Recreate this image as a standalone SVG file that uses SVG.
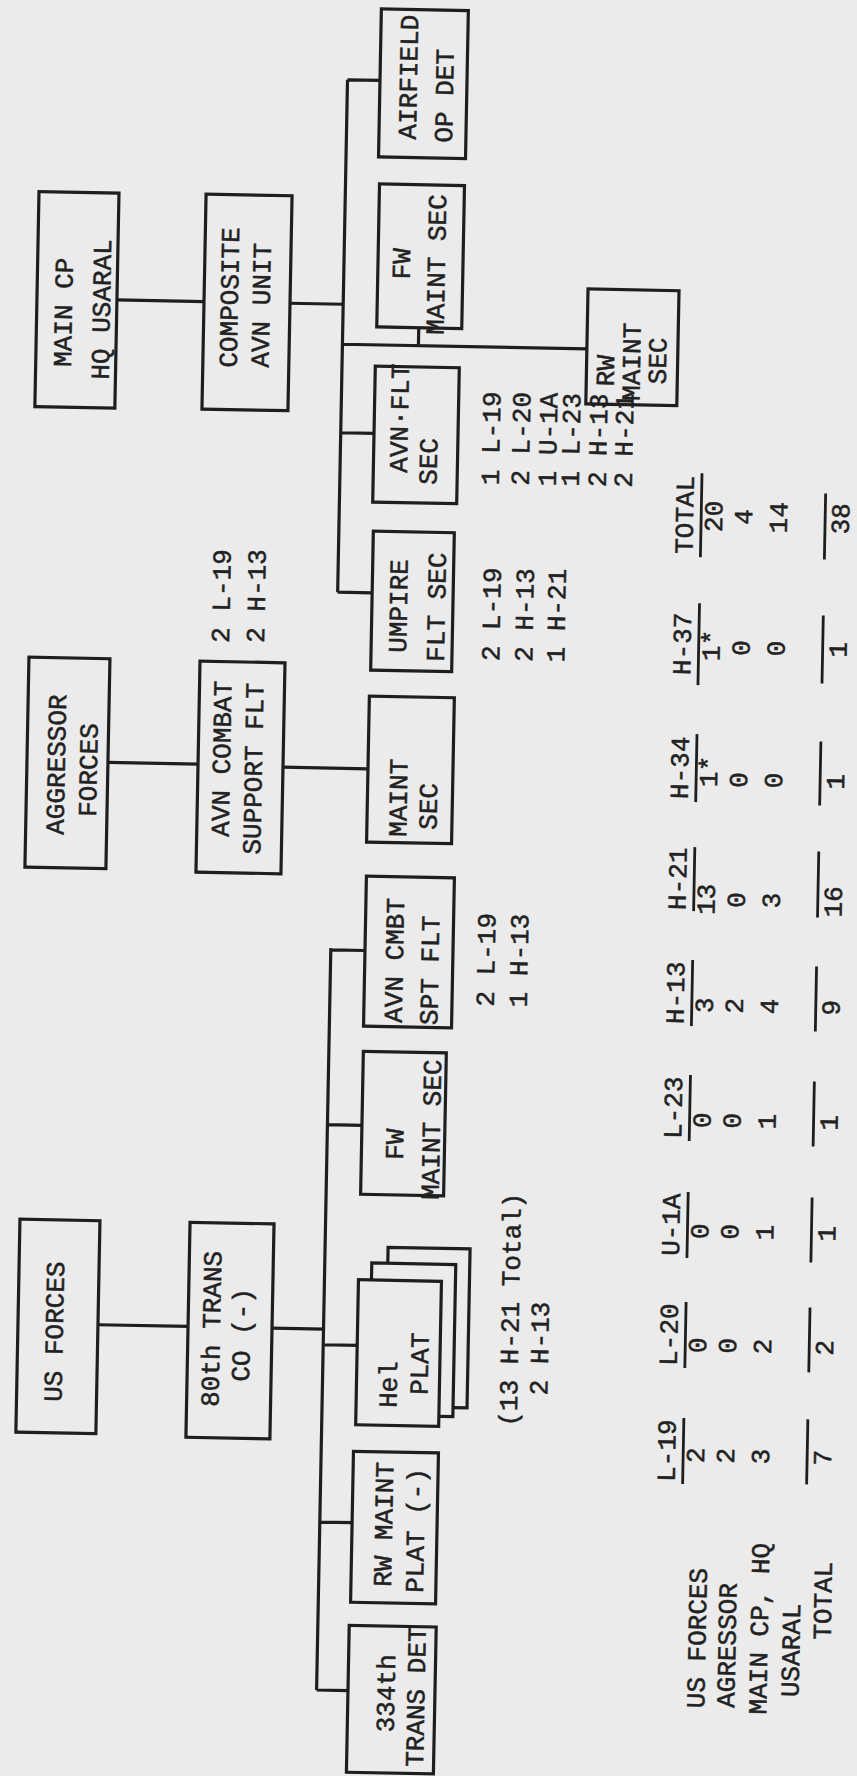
<svg xmlns="http://www.w3.org/2000/svg" width="857" height="1776" viewBox="0 0 857 1776">
<style>
.bg{fill:#ebebeb}
.box{fill:none;stroke:#1e1e1e;stroke-width:3.2;stroke-linejoin:miter}
.con{fill:none;stroke:#1e1e1e;stroke-width:3.2}
.rule{fill:none;stroke:#1e1e1e;stroke-width:2.8}
.t{font-family:"Liberation Mono","DejaVu Sans Mono",monospace;font-size:26px;fill:#222;stroke:#222;stroke-width:0.5}
.m{text-anchor:middle}
</style>
<rect class="bg" x="0" y="0" width="857" height="1776"/>
<g transform="rotate(1.1 428 888)">
<g id="connectors">
<path class="con" d="M105.7,306H192.8M278.8,306H332M332,81.5V594M332,81.5H364.5M332,346H576.5M408,328V346M332,434.5H365.3M332,594H366.5"/>
<path class="con" d="M105.6,768.5H195.7M280.7,770H365.7"/>
<path class="con" d="M106.4,1331H196.5M280.5,1331H332M332,950V1692M332,951.7H366.2M332,1126.6H366.5M332,1346.7H366M332,1524H364.3M332,1692H363.4"/>
</g>
<g id="main-cp">
<rect class="box" x="25.7" y="199.2" width="80" height="215"/>
<text class="t" transform="translate(61,374) rotate(-90)">MAIN CP</text>
<text class="t" transform="translate(99,386) rotate(-90)">HQ USARAL</text>
</g>
<g id="composite">
<rect class="box" x="192.8" y="198.5" width="86" height="215"/>
<text class="t" transform="translate(226.7,371.6) rotate(-90)">COMPOSITE</text>
<text class="t" transform="translate(258.6,371) rotate(-90)">AVN UNIT</text>
</g>
<g id="airfield">
<rect class="box" x="364.5" y="10" width="87" height="148"/>
<text class="t" transform="translate(401.5,140) rotate(-90)">AIRFIELD</text>
<text class="t" transform="translate(437.8,142.5) rotate(-90)">OP DET</text>
</g>
<g id="fw-maint-r">
<rect class="box" x="366" y="185" width="85" height="143"/>
<text class="t" transform="translate(398,280) rotate(-90)">FW</text>
<text class="t" transform="translate(433,334.7) rotate(-90)">MAINT SEC</text>
</g>
<g id="avn-flt">
<rect class="box" x="365.3" y="367.2" width="84" height="136"/>
<text class="t" transform="translate(399,473.4) rotate(-90)">AVN·FLT</text>
<text class="t" transform="translate(428.8,484.8) rotate(-90)">SEC</text>
<text class="t" transform="translate(491,484) rotate(-90)">1 L-19</text>
<text class="t" transform="translate(521,484) rotate(-90)">2 L-20</text>
<text class="t" transform="translate(548,484) rotate(-90)">1 U-1A</text>
<text class="t" transform="translate(571,484) rotate(-90)">1 L-23</text>
<text class="t" transform="translate(598,484) rotate(-90)">2 H-13</text>
<text class="t" transform="translate(624,484) rotate(-90)">2 H-21</text>
</g>
<g id="umpire">
<rect class="box" x="366.5" y="532.3" width="81" height="139"/>
<text class="t" transform="translate(401.6,653.4) rotate(-90)">UMPIRE</text>
<text class="t" transform="translate(439.6,661.7) rotate(-90)">FLT SEC</text>
<text class="t" transform="translate(494.8,660) rotate(-90)">2 L-19</text>
<text class="t" transform="translate(527.8,660) rotate(-90)">2 H-13</text>
<text class="t" transform="translate(559.8,660) rotate(-90)">1 H-21</text>
</g>
<g id="rw-maint-sec">
<rect class="box" x="576.5" y="286" width="91" height="115"/>
<text class="t" transform="translate(604,383) rotate(-90)">RW</text>
<text class="t" transform="translate(630,397) rotate(-90)">MAINT</text>
<text class="t" transform="translate(656,380) rotate(-90)">SEC</text>
</g>
<g id="aggressor">
<rect class="box" x="24.6" y="664.9" width="81" height="210"/>
<text class="t" transform="translate(62.6,842) rotate(-90)">AGGRESSOR</text>
<text class="t" transform="translate(94.7,823.4) rotate(-90)">FORCES</text>
</g>
<g id="avn-combat">
<rect class="box" x="195.7" y="665.6" width="85" height="211"/>
<text class="t" transform="translate(227.7,840.8) rotate(-90)">AVN COMBAT</text>
<text class="t" transform="translate(259.7,858) rotate(-90)">SUPPORT FLT</text>
<text class="t" transform="translate(224.4,646.8) rotate(-90)">2 L-19</text>
<text class="t" transform="translate(259.4,646.1) rotate(-90)">2 H-13</text>
</g>
<g id="maint-sec">
<rect class="box" x="365.7" y="697.3" width="85" height="146"/>
<text class="t" transform="translate(405.2,837.4) rotate(-90)">MAINT</text>
<text class="t" transform="translate(435.4,829.8) rotate(-90)">SEC</text>
</g>
<g id="avn-cmbt-spt">
<rect class="box" x="366.2" y="877.4" width="88" height="150"/>
<text class="t" transform="translate(404.4,1023.5) rotate(-90)">AVN CMBT</text>
<text class="t" transform="translate(440,1025) rotate(-90)">SPT FLT</text>
<text class="t" transform="translate(496,1005.5) rotate(-90)">2 L-19</text>
<text class="t" transform="translate(529,1005.5) rotate(-90)">1 H-13</text>
</g>
<g id="fw-maint-l">
<rect class="box" x="366.5" y="1052.5" width="83" height="143"/>
<text class="t" transform="translate(408.2,1160.5) rotate(-90)">FW</text>
<text class="t" transform="translate(444.6,1199.8) rotate(-90)">MAINT SEC</text>
</g>
<g id="us-forces">
<rect class="box" x="26.4" y="1227" width="80" height="213"/>
<text class="t" transform="translate(71.5,1409) rotate(-90)">US FORCES</text>
</g>
<g id="trans-co">
<rect class="box" x="196.5" y="1226.8" width="84" height="215"/>
<text class="t" transform="translate(228.5,1411) rotate(-90)">80th TRANS</text>
<text class="t m" transform="translate(258.6,1338.4) rotate(-90)">CO (-)</text>
</g>
<g id="hel-plat">
<path class="box" d="M395,1264V1248H477V1407H463"/>
<path class="box" d="M379,1281V1264H463V1416H449"/>
<rect class="box" x="366" y="1281" width="83" height="145"/>
<text class="t" transform="translate(406.5,1408.6) rotate(-90)">Hel</text>
<text class="t" transform="translate(437.3,1395) rotate(-90)">PLAT</text>
<text class="t" transform="translate(527,1425) rotate(-90)">(13 H-21 Total)</text>
<text class="t" transform="translate(557,1393) rotate(-90)">2 H-13</text>
</g>
<g id="rw-maint-plat">
<rect class="box" x="364.3" y="1452.6" width="85" height="151"/>
<text class="t" transform="translate(404.5,1587.6) rotate(-90)">RW MAINT</text>
<text class="t" transform="translate(436.5,1593) rotate(-90)">PLAT (-)</text>
</g>
<g id="trans-det">
<rect class="box" x="363.4" y="1626.7" width="87" height="147"/>
<text class="t" transform="translate(410,1733) rotate(-90)">334th</text>
<text class="t" transform="translate(440,1767) rotate(-90)">TRANS DET</text>
</g>
<g id="table">
<text class="t" transform="translate(720,1703) rotate(-90)">US FORCES</text>
<text class="t" transform="translate(750,1702) rotate(-90)">AGRESSOR</text>
<text class="t" transform="translate(782,1708) rotate(-90)">MAIN CP, HQ</text>
<text class="t" transform="translate(814,1690) rotate(-90)">USARAL</text>
<text class="t" transform="translate(845,1632) rotate(-90)">TOTAL</text>
<path class="rule" d="M694,1413V1479M694,1297V1363M694,1187V1253M694,1070V1136M694,955V1021M694,842V906M694,729V797M694,598V680M694,468V552"/>
<path class="rule" d="M818,1412V1477M818,1300V1365M818,1190V1255M818,1074V1139M818,959V1024M818,844V910M818,734V798M818,608V676M818,486V552"/>
<g class="t m">
<text transform="translate(686,1446) rotate(-90)">L-19</text>
<text transform="translate(686,1330) rotate(-90)">L-20</text>
<text transform="translate(686,1220) rotate(-90)">U-1A</text>
<text transform="translate(686,1103) rotate(-90)">L-23</text>
<text transform="translate(686,988) rotate(-90)">H-13</text>
<text transform="translate(686,874) rotate(-90)">H-21</text>
<text transform="translate(686,763) rotate(-90)">H-34</text>
<text transform="translate(686,639) rotate(-90)">H-37</text>
<text transform="translate(686,510) rotate(-90)">TOTAL</text>
<text transform="translate(715,1450) rotate(-90)">2</text>
<text transform="translate(745,1450) rotate(-90)">2</text>
<text transform="translate(780,1450) rotate(-90)">3</text>
<text transform="translate(842,1450) rotate(-90)">7</text>
<text transform="translate(715,1340) rotate(-90)">0</text>
<text transform="translate(745,1340) rotate(-90)">0</text>
<text transform="translate(780,1340) rotate(-90)">2</text>
<text transform="translate(842,1340) rotate(-90)">2</text>
<text transform="translate(715,1226) rotate(-90)">0</text>
<text transform="translate(745,1226) rotate(-90)">0</text>
<text transform="translate(780,1226) rotate(-90)">1</text>
<text transform="translate(842,1226) rotate(-90)">1</text>
<text transform="translate(715,1115) rotate(-90)">0</text>
<text transform="translate(745,1115) rotate(-90)">0</text>
<text transform="translate(780,1115) rotate(-90)">1</text>
<text transform="translate(842,1115) rotate(-90)">1</text>
<text transform="translate(715,1000) rotate(-90)">3</text>
<text transform="translate(745,1000) rotate(-90)">2</text>
<text transform="translate(780,1000) rotate(-90)">4</text>
<text transform="translate(842,1000) rotate(-90)">9</text>
<text transform="translate(715,894) rotate(-90)">13</text>
<text transform="translate(745,894) rotate(-90)">0</text>
<text transform="translate(780,894) rotate(-90)">3</text>
<text transform="translate(842,894) rotate(-90)">16</text>
<text transform="translate(715,766) rotate(-90)">1*</text>
<text transform="translate(745,774) rotate(-90)">0</text>
<text transform="translate(780,774) rotate(-90)">0</text>
<text transform="translate(842,774) rotate(-90)">1</text>
<text transform="translate(715,640) rotate(-90)">1*</text>
<text transform="translate(745,642) rotate(-90)">0</text>
<text transform="translate(780,642) rotate(-90)">0</text>
<text transform="translate(842,642) rotate(-90)">1</text>
<text transform="translate(715,511) rotate(-90)">20</text>
<text transform="translate(745,511) rotate(-90)">4</text>
<text transform="translate(780,511) rotate(-90)">14</text>
<text transform="translate(842,511) rotate(-90)">38</text>
</g>
</g>
</g>
</svg>
